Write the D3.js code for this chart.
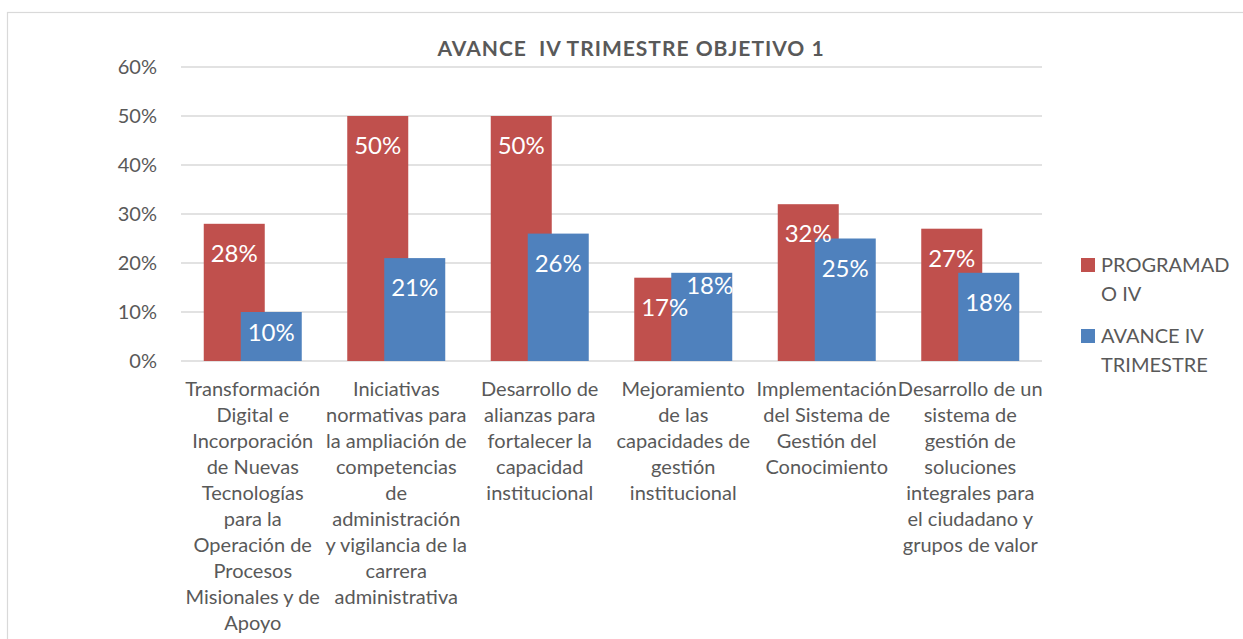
<!DOCTYPE html>
<html>
<head>
<meta charset="utf-8">
<script src="https://cdn.jsdelivr.net/npm/d3@7"></script>
<style>
  body { margin: 0; background: #fff; }
  svg { display: block; font-family: Lato, "Open Sans", sans-serif; }
</style>
</head>
<body>
<svg id="chart" width="1243" height="639"></svg>
<script>
// category labels, broken into lines the way the original wraps them
const categories = [
    ["Transformación", "Digital e", "Incorporación", "de Nuevas", "Tecnologías", "para la", "Operación de", "Procesos", "Misionales y de", "Apoyo"],
    ["Iniciativas", "normativas para", "la ampliación de", "competencias", "de", "administración", "y vigilancia de la", "carrera", "administrativa"],
    ["Desarrollo de", "alianzas para", "fortalecer la", "capacidad", "institucional"],
    ["Mejoramiento", "de las", "capacidades de", "gestión", "institucional"],
    ["Implementación", "del Sistema de", "Gestión del", "Conocimiento"],
    ["Desarrollo de un", "sistema de", "gestión de", "soluciones", "integrales para", "el ciudadano y", "grupos de valor"]
];
const programado = [0.28, 0.50, 0.50, 0.17, 0.32, 0.27];
const avance = [0.10, 0.21, 0.26, 0.18, 0.25, 0.18];
const yTicks = [0, 0.1, 0.2, 0.3, 0.4, 0.5, 0.6];
const seriesNames = [["PROGRAMAD", "O IV"], ["AVANCE IV", "TRIMESTRE"]];
const colors = ["#C0504D", "#4F81BD"];

const svg = d3.select('#chart');
const textColor = '#595959';
const gridColor = '#D9D9D9';
const pct = d3.format('.0%');

// chart frame
svg.append('rect')
    .attr('x', 7.5).attr('y', 12.5)
    .attr('width', 1400).attr('height', 800)
    .attr('fill', 'none')
    .attr('stroke', gridColor)
    .attr('stroke-width', 1.2);

const plot = { left: 181, right: 1042, top: 67, bottom: 361 };

const x = d3.scaleBand()
    .domain(d3.range(categories.length))
    .range([plot.left, plot.right]);

const y = d3.scaleLinear()
    .domain([0, 0.6])
    .range([plot.bottom, plot.top]);

const barWidth = 61;
const barStep = 37; // excel overlap between the two series

// gridlines
svg.append('g')
    .selectAll('line')
    .data(yTicks)
    .join('line')
    .attr('x1', plot.left).attr('x2', plot.right)
    .attr('y1', d => y(d)).attr('y2', d => y(d))
    .attr('stroke', gridColor)
    .attr('stroke-width', 1.5);

// y axis labels
const yAxis = d3.axisLeft(y)
    .tickValues(yTicks)
    .tickFormat(pct)
    .tickSize(0)
    .tickPadding(24);

svg.append('g')
    .attr('transform', `translate(${plot.left},0)`)
    .call(yAxis)
    .call(g => g.select('.domain').remove())
    .call(g => g.selectAll('text')
        .attr('fill', textColor)
        .style('font-size', '20px')
        .style('font-family', 'Lato, sans-serif'));

// bars
const series = [programado, avance];
const barX = (i, s) => x(i) + x.bandwidth() / 2 - (barWidth + barStep) / 2 + s * barStep;

series.forEach((values, s) => {
    svg.append('g')
        .selectAll('rect')
        .data(values)
        .join('rect')
        .attr('x', (d, i) => barX(i, s))
        .attr('y', d => y(d))
        .attr('width', barWidth)
        .attr('height', d => y(0) - y(d))
        .attr('fill', colors[s]);
});

// data label baselines, inside the bar end; short bars get less padding
const labelY = series.map(values => values.map(d => y(d) + Math.min(38, (y(0) - y(d)) * 0.6)));
const lifted = categories.map(() => false);
// when the two labels of a group would collide, lift the second one
categories.forEach((c, i) => {
    if (Math.abs(labelY[0][i] - labelY[1][i]) < 22) {
        labelY[1][i] = labelY[0][i] - 22;
        lifted[i] = true;
    }
});

series.forEach((values, s) => {
    svg.append('g')
        .selectAll('text')
        .data(values)
        .join('text')
        .attr('x', (d, i) => barX(i, s) + barWidth / 2 + (s === 1 && lifted[i] ? 8 : 0))
        .attr('y', (d, i) => labelY[s][i])
        .attr('text-anchor', 'middle')
        .attr('fill', '#fff')
        .style('font-size', '24px')
        .text(d => pct(d));
});

// category labels
const catGroup = svg.append('g');
categories.forEach((lines, i) => {
    const t = catGroup.append('text')
        .attr('text-anchor', 'middle')
        .attr('fill', textColor)
        .style('font-size', '20px');
    lines.forEach((line, j) => {
        t.append('tspan')
            .attr('x', x(i) + x.bandwidth() / 2)
            .attr('y', 396 + j * 26)
            .text(line);
    });
});

// title
svg.append('text')
    .attr('x', 631)
    .attr('y', 56)
    .attr('text-anchor', 'middle')
    .attr('fill', textColor)
    .style('font-size', '21px')
    .style('font-weight', 'bold')
    .style('letter-spacing', '1px')
    .style('white-space', 'pre')
    .text('AVANCE  IV TRIMESTRE OBJETIVO 1');

// legend
const legend = svg.append('g').attr('transform', 'translate(1081,258)');
seriesNames.forEach((lines, s) => {
    const g = legend.append('g').attr('transform', `translate(0,${s * 71})`);
    g.append('rect')
        .attr('width', 14).attr('height', 14)
        .attr('fill', colors[s]);
    const t = g.append('text')
        .attr('fill', textColor)
        .style('font-size', '20px');
    lines.forEach((line, j) => {
        t.append('tspan')
            .attr('x', 20)
            .attr('y', 14 + j * 28.5)
            .text(line);
    });
});
</script>
</body>
</html>
